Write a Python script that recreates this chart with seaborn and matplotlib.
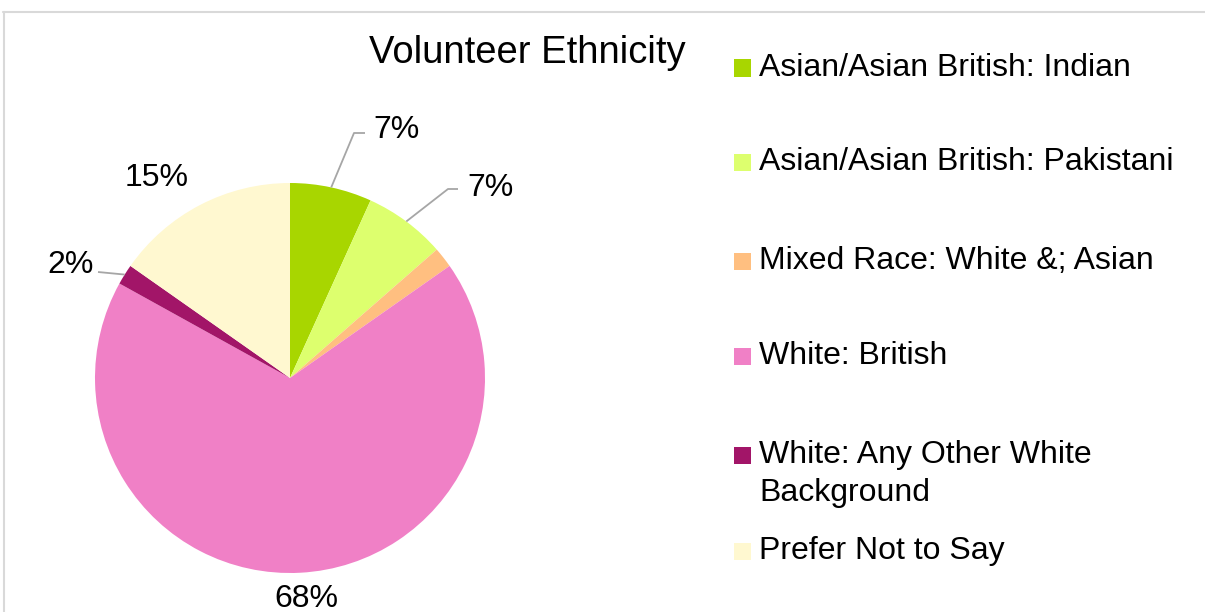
import matplotlib
matplotlib.use("Agg")
import matplotlib.pyplot as plt
import seaborn as sns
import numpy as np
from matplotlib.lines import Line2D
from matplotlib.patches import Rectangle

# ---- data ----
categories = [
    "Asian/Asian British: Indian",
    "Asian/Asian British: Pakistani",
    "Mixed Race: White &; Asian",
    "White: British",
    "White: Any Other White\nBackground",
    "Prefer Not to Say",
]
counts = [4, 4, 1, 40, 1, 9]
pct_labels = ["7%", "7%", "", "68%", "2%", "15%"]
title = "Volunteer Ethnicity"

# ---- style ----
colors = ["#A8D600", "#DDFF6E", "#FFBF80", "#F080C6", "#A21568", "#FFF8D0"]
W, H = 1205, 612
FS = 23
TFS = 27.5

sns.set_theme(style="white")
plt.rcParams["font.family"] = ["Liberation Sans", "DejaVu Sans"]

fig = plt.figure(figsize=(W / 100, H / 100), dpi=100)
fig.patch.set_facecolor("white")

# pie axes: center (290,378) px, radius 195 px
cx, cy, r = 290, 378, 195
ax = fig.add_axes([(cx - r) / W, (H - cy - r) / H, 2 * r / W, 2 * r / H])
wedges, _ = ax.pie(counts, colors=colors, startangle=90, counterclock=False,
                   radius=1.0, wedgeprops=dict(linewidth=0))
ax.set_xlim(-1, 1)
ax.set_ylim(-1, 1)
ax.set_aspect("equal")
ax.axis("off")

def px2d(x, y):
    return (x - cx) / r, (cy - y) / r

# label layout (pixel positions): text anchor, ha, optional elbow/end of leader
layout = [
    dict(text=(373, 130), ha="left", leader=[(354, 133), (365, 133)]),
    dict(text=(467, 188), ha="left", leader=[(448, 189), (458, 189)]),
    None,
    dict(text=(306, 599), ha="center", leader=None),
    dict(text=(94, 265), ha="right", leader=[(98, 272)]),
    dict(text=(157, 178), ha="center", leader=None),
]

for w, lab, lay in zip(wedges, pct_labels, layout):
    if lay is None or not lab:
        continue
    mid = np.deg2rad((w.theta1 + w.theta2) / 2)
    tx, ty = px2d(*lay["text"])
    ax.text(tx, ty, lab, ha=lay["ha"], va="center", fontsize=FS,
            color="black", clip_on=False)
    if lay["leader"]:
        pts = [(np.cos(mid), np.sin(mid))] + [px2d(*p) for p in lay["leader"]]
        xs, ys = zip(*pts)
        ax.plot(xs, ys, color="#A6A6A6", lw=1.3, clip_on=False,
                solid_capstyle="butt")

# title
fig.text(527 / W, 1 - 53 / H, title, ha="center", va="center", fontsize=TFS,
         color="black")

# legend (manual)
row_y = [68, 162, 261, 356, 455, 551]
sq = 17
for lab, col, y in zip(categories, colors, row_y):
    fig.add_artist(Rectangle((734 / W, 1 - (y + sq / 2) / H), sq / W, sq / H,
                             transform=fig.transFigure, facecolor=col,
                             edgecolor="none"))
    for i, line in enumerate(lab.split("\n")):
        fig.text(759 / W, 1 - (y + i * 38) / H, line, ha="left",
                 va="center", fontsize=FS, color="black")

# border
bc = "#D9D9D9"
fig.add_artist(Line2D([3 / W, 1.0], [1 - 11.5 / H, 1 - 11.5 / H],
                      transform=fig.transFigure, color=bc, lw=1.5))
fig.add_artist(Line2D([3.5 / W, 3.5 / W], [0, 1 - 11.5 / H],
                      transform=fig.transFigure, color=bc, lw=1.5))

fig.savefig("out.png", dpi=100, facecolor="white")
